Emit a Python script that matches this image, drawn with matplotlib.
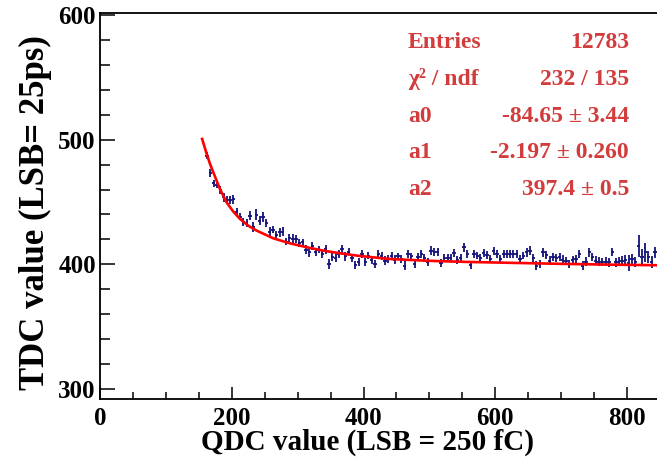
#!/usr/bin/env python3

import matplotlib.pyplot as plt
from matplotlib.ticker import MultipleLocator

# TDC vs QDC profile (bin width 5)
qdc_first = 162.5
qdc_step = 5.0
tdc = [
    487.2, 473.0, 465.0, 464.0, 459.7, 453.8, 452.0, 451.6, 452.4, 441.8,
    438.3, 434.3, 433.0, 439.0, 429.8, 439.6, 435.0, 438.2, 433.0,
    426.2, 427.8, 423.6, 425.7, 426.2, 418.2, 420.9, 420.4, 420.4, 417.2,
    417.7, 411.8, 409.7, 414.5, 409.7, 411.8, 408.3, 412.3, 400.3, 405.7, 404.9,
    408.3, 412.3, 406.5, 410.2, 404.9, 399.5, 401.7, 408.3, 402.2, 407.0,
    403.8, 400.3, 408.3, 407.0, 403.0, 404.3, 407.0, 403.8, 406.5, 404.3, 399.0,
    408.3, 406.5, 400.3, 405.7, 408.3, 404.9, 401.7, 411.0, 409.7, 409.7,
    401.1, 404.9, 404.9, 404.9, 409.1, 403.8, 404.9, 413.7, 408.3,
    399.5, 408.3, 407.0, 404.9, 409.1, 407.5, 404.3, 411.0, 408.3, 404.3,
    408.3, 408.3, 408.3, 408.3, 408.3, 404.3, 407.0, 409.7, 411.0, 404.9,
    399.0, 400.3,
    409.7, 407.5, 403.0, 405.7, 404.9, 405.7, 403.8, 403.0, 400.3, 403.8,
    404.3, 408.3, 399.0, 402.2, 409.7, 405.7, 403.0, 402.2, 401.7, 402.2, 401.7,
    409.7, 401.7, 402.2, 403.0, 403.8, 401.1, 404.3, 402.2, 414.5, 405.7,
    409.7, 405.7, 401.7, 409.7,
]
tdc_err = [
    3.0, 3.2, 2.8, 3.0, 3.2, 3.4, 3.0, 3.2, 3.6, 3.4,
    3.0, 3.2, 3.0, 3.6, 4.2, 4.4, 3.8, 4.0, 3.4,
    3.4, 3.0, 3.2, 3.4, 3.6, 3.0, 3.2, 3.8, 3.4, 3.2,
    3.0, 3.4, 3.6, 3.2, 3.4, 3.0, 3.2, 3.6, 3.8, 3.2, 3.4,
    3.2, 3.0, 3.6, 3.0, 3.4, 3.2, 3.0, 3.4, 3.2, 3.0,
    3.2, 3.4, 3.0, 3.2, 3.6, 3.0, 3.2, 3.4, 3.0, 3.2, 3.4,
    3.2, 3.0, 3.4, 3.2, 3.0, 3.2, 3.4, 3.6, 3.2, 3.2,
    3.4, 3.0, 3.2, 3.2, 3.4, 3.2, 3.0, 3.6, 3.2,
    3.4, 3.2, 3.0, 3.4, 3.2, 3.0, 3.4, 3.2, 3.0, 3.2,
    3.2, 3.2, 3.2, 3.2, 3.2, 3.4, 3.0, 3.6, 3.4, 3.2,
    3.6, 3.4,
    3.6, 3.2, 3.4, 3.2, 3.0, 3.2, 3.4, 3.2, 3.4, 3.2,
    3.0, 3.6, 3.8, 3.4, 3.6, 3.2, 3.4, 3.6, 3.4, 3.8, 3.6,
    3.4, 3.6, 3.4, 4.0, 4.0, 6.5, 4.2, 4.0, 9.0, 7.0,
    7.5, 5.0, 5.0, 4.5,
]
qdc = [qdc_first + qdc_step * i for i in range(len(tdc))]

# fitted curve
fit_x = [155, 162, 167, 175, 182, 192, 202, 212.5, 225, 238, 263, 288, 314,
         339, 364, 390, 415, 440, 500, 560, 635, 700, 770, 845]
fit_y = [500.6, 488.5, 480.5, 469.8, 460.5, 449.8, 442.5, 436.4, 431.0, 427.0,
         420.9, 416.9, 413.7, 411.0, 408.9, 407.0, 405.6, 404.3, 402.8, 401.9,
         401.1, 400.4, 399.8, 399.3]

stat_names = ['Entries', 'χ² / ndf', 'a0', 'a1', 'a2']
stat_values = ['12783', '232 / 135', '-84.65 ± 3.44', '-2.197 ± 0.260', '397.4 ± 0.5']

plt.rcParams['font.family'] = ['Liberation Serif', 'DejaVu Serif']
plt.rcParams['font.weight'] = 'bold'

W, H = 657, 469
fig = plt.figure(figsize=(W / 100, H / 100), dpi=100)
ax = fig.add_axes([100 / W, 70 / H, 560 / W, 386 / H])

ax.errorbar(qdc, tdc, yerr=tdc_err, xerr=2.5, fmt='none',
            ecolor='#14147a', elinewidth=1.3, capsize=0, zorder=2)
ax.plot(fit_x, fit_y, color='#ff0000', lw=1.9, zorder=3)

ax.set_xlim(0, 850)
ax.set_ylim(292, 601.6)
ax.xaxis.set_major_locator(MultipleLocator(200))
ax.xaxis.set_minor_locator(MultipleLocator(50))
ax.yaxis.set_major_locator(MultipleLocator(100))
ax.yaxis.set_minor_locator(MultipleLocator(20))
ax.tick_params(axis='both', which='both', direction='in', width=1.1,
               top=False, right=False)
ax.tick_params(axis='x', which='major', length=9, pad=6, labelsize=18)
ax.tick_params(axis='x', which='minor', length=5)
ax.tick_params(axis='y', which='major', length=11, pad=3, labelsize=18)
ax.tick_params(axis='y', which='minor', length=7)
for s in ax.spines.values():
    s.set_linewidth(1.3)
ax.spines['right'].set_visible(False)

ax.set_xlabel('QDC value (LSB = 250 fC)', fontsize=21, fontweight='bold')
ax.set_ylabel('TDC value (LSB= 25ps)', fontsize=25, fontweight='bold')
ax.xaxis.set_label_coords(0.477, -0.076)
ax.yaxis.set_label_coords(-0.086, 0.484)

red = '#d23c3c'
for i, (n, v) in enumerate(zip(stat_names, stat_values)):
    yy = 1 - (42.7 + 36.7 * i) / H
    fig.text(408 / W, yy, n, color=red, fontsize=17, fontweight='bold',
             ha='left', va='center')
    fig.text(629 / W, yy, v, color=red, fontsize=17, fontweight='bold',
             ha='right', va='center')

plt.savefig('out.png', dpi=100)
